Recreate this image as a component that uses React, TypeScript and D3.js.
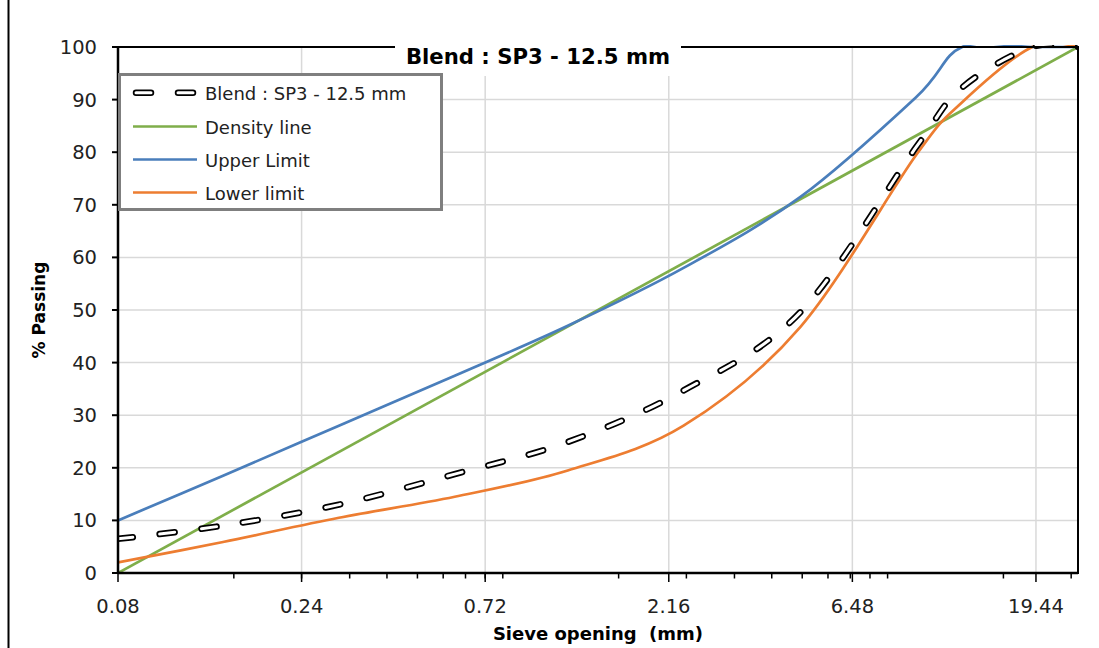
import React from "react";
import * as d3 from "d3";

// ---- data ----
const sieves = [0.08, 0.15, 0.3, 0.6, 1.18, 2.36, 4.75, 9.5, 12.5, 19, 25];
const blendPassing = [6.5, 9, 13, 18.8, 24.9, 34.7, 49.6, 81, 92.3, 100, 100];
const upperLimit = [10, 18.5, 28, 37.5, 47, 58, 71.5, 90.5, 100, 100, 100];
const lowerLimit = [2, 5.9, 10.5, 14.5, 19.5, 28, 46.8, 79.5, 89.5, 100, 100];
const densitySizes = [0.08, 25];
const densityPassing = [0, 100];

const xMajorTicks = [0.08, 0.24, 0.72, 2.16, 6.48, 19.44];
const xMinorDecades = [0.08, 0.8, 8];
const xMinorMultipliers = [2, 3, 4, 5, 6, 7, 8, 9, 10];
const yTicks = [0, 10, 20, 30, 40, 50, 60, 70, 80, 90, 100];

const titleText = "Blend : SP3 - 12.5 mm";
const xTitle = "Sieve opening  (mm)";
const yTitle = "% Passing";

const seriesNames = ["Blend : SP3 - 12.5 mm", "Density line", "Upper Limit", "Lower limit"];

const COLORS = {
  green: "#7FAE4A",
  blue: "#4A7EBB",
  orange: "#ED7D31",
  grid: "#D9D9D9",
};

const FONT = "'DejaVu Sans', sans-serif";

export default function App() {
  const W = 1099;
  const H = 648;
  const left = 118, right = 1078, top = 47, bottom = 573;

  const x = d3.scaleLog().base(3).domain([0.08, 25]).range([left, right]);
  const y = d3.scaleLinear().domain([0, 100]).range([bottom, top]);

  const curve = d3.curveCardinal.tension(0);
  const lineGen = d3
    .line<[number, number]>()
    .x((d) => x(d[0]))
    .y((d) => y(d[1]))
    .curve(curve);
  const straight = d3
    .line<[number, number]>()
    .x((d) => x(d[0]))
    .y((d) => y(d[1]));

  const zip = (xs: number[], ys: number[]) => xs.map((v, i) => [v, ys[i]] as [number, number]);

  const blendPath = lineGen(zip(sieves, blendPassing)) || "";
  const upperPath = lineGen(zip(sieves, upperLimit)) || "";
  const lowerPath = lineGen(zip(sieves, lowerLimit)) || "";
  const densityPath = straight(zip(densitySizes, densityPassing)) || "";

  const minorTicks: number[] = [];
  xMinorDecades.forEach((d) =>
    xMinorMultipliers.forEach((m) => {
      const v = +(d * m).toFixed(4);
      if (v <= 25) minorTicks.push(v);
    })
  );

  const dash = "15 27";

  const legendX = 119.5, legendY = 74.5, legendW = 322, legendH = 135;
  const legendRows = [92.7, 126.5, 159.5, 192.5];

  return (
    <svg
      width={W}
      height={H}
      style={{ position: "absolute", left: 0, top: 0, background: "#fff" }}
      fontFamily={FONT}
    >
      <defs>
        <clipPath id="plotClip">
          <rect x={left} y={top - 2} width={right - left} height={bottom - top + 2} />
        </clipPath>
      </defs>
      <rect x={0} y={0} width={W} height={H} fill="#fff" />
      {/* outer chart border (left) */}
      <line x1={8.5} x2={8.5} y1={0} y2={H} stroke="#000" strokeWidth={2} />

      {/* gridlines */}
      {yTicks.map((t) => (
        <line key={"gy" + t} x1={left} x2={right} y1={y(t)} y2={y(t)} stroke={COLORS.grid} strokeWidth={1.5} />
      ))}
      {xMajorTicks.map((t) => (
        <line key={"gx" + t} x1={x(t)} x2={x(t)} y1={top} y2={bottom} stroke={COLORS.grid} strokeWidth={1.5} />
      ))}

      {/* series */}
      <g clipPath="url(#plotClip)" fill="none" strokeLinejoin="round">
        <path d={densityPath} stroke={COLORS.green} strokeWidth={2.7} />
        <path d={upperPath} stroke={COLORS.blue} strokeWidth={2.7} />
        <path d={lowerPath} stroke={COLORS.orange} strokeWidth={2.7} />
        <path d={blendPath} stroke="#000" strokeWidth={6.5} strokeDasharray={dash} strokeLinecap="round" />
        <path d={blendPath} stroke="#fff" strokeWidth={3} strokeDasharray={dash} strokeLinecap="round" />
      </g>

      {/* plot border / axes */}
      <rect x={left} y={top} width={right - left} height={bottom - top} fill="none" stroke="#000" strokeWidth={2} />
      <line x1={left} x2={left} y1={top} y2={bottom} stroke="#000" strokeWidth={2.5} />
      <line x1={left} x2={right} y1={bottom} y2={bottom} stroke="#000" strokeWidth={2.5} />

      {/* y ticks */}
      {yTicks.map((t) => (
        <g key={"yt" + t}>
          <line x1={left - 6} x2={left} y1={y(t)} y2={y(t)} stroke="#000" strokeWidth={2} />
          <text x={97} y={y(t)} dy="0.36em" textAnchor="end" fontSize={19.5} fill="#222">
            {t}
          </text>
        </g>
      ))}

      {/* x ticks */}
      {minorTicks.map((t, i) => (
        <line key={"mx" + i} x1={x(t)} x2={x(t)} y1={bottom} y2={bottom + 5.5} stroke="#000" strokeWidth={1.5} />
      ))}
      {xMajorTicks.map((t) => (
        <g key={"xt" + t}>
          <line x1={x(t)} x2={x(t)} y1={bottom} y2={bottom + 9} stroke="#000" strokeWidth={1.5} />
          <text x={x(t)} y={613} textAnchor="middle" fontSize={19.5} fill="#222">
            {t}
          </text>
        </g>
      ))}

      {/* axis titles */}
      <text x={598} y={640} textAnchor="middle" fontSize={18} fontWeight="bold" fill="#000" style={{ whiteSpace: "pre" }}>
        {xTitle}
      </text>
      <text
        transform={`translate(45,310) rotate(-90)`}
        textAnchor="middle"
        fontSize={17}
        fontWeight="bold"
        fill="#000"
      >
        {yTitle}
      </text>

      {/* chart title */}
      <rect x={395} y={35} width={286} height={41} fill="#fff" />
      <text x={538} y={64} textAnchor="middle" fontSize={21.2} fontWeight="bold" fill="#000">
        {titleText}
      </text>

      {/* legend */}
      <rect x={legendX} y={legendY} width={legendW} height={legendH} fill="#fff" stroke="#7F7F7F" strokeWidth={3} />
      {seriesNames.map((name, i) => {
        const ly = legendRows[i];
        const x1 = 136, x2 = 196;
        return (
          <g key={name}>
            {i === 0 ? (
              <>
                <line x1={x1} x2={x2} y1={ly} y2={ly} stroke="#000" strokeWidth={6.5} strokeDasharray={dash} strokeLinecap="round" />
                <line x1={x1} x2={x2} y1={ly} y2={ly} stroke="#fff" strokeWidth={3} strokeDasharray={dash} strokeLinecap="round" />
              </>
            ) : (
              <line
                x1={133}
                x2={197}
                y1={ly}
                y2={ly}
                stroke={i === 1 ? COLORS.green : i === 2 ? COLORS.blue : COLORS.orange}
                strokeWidth={2.7}
              />
            )}
            <text x={205} y={ly + 7} fontSize={18} fill="#222">
              {name}
            </text>
          </g>
        );
      })}
    </svg>
  );
}
